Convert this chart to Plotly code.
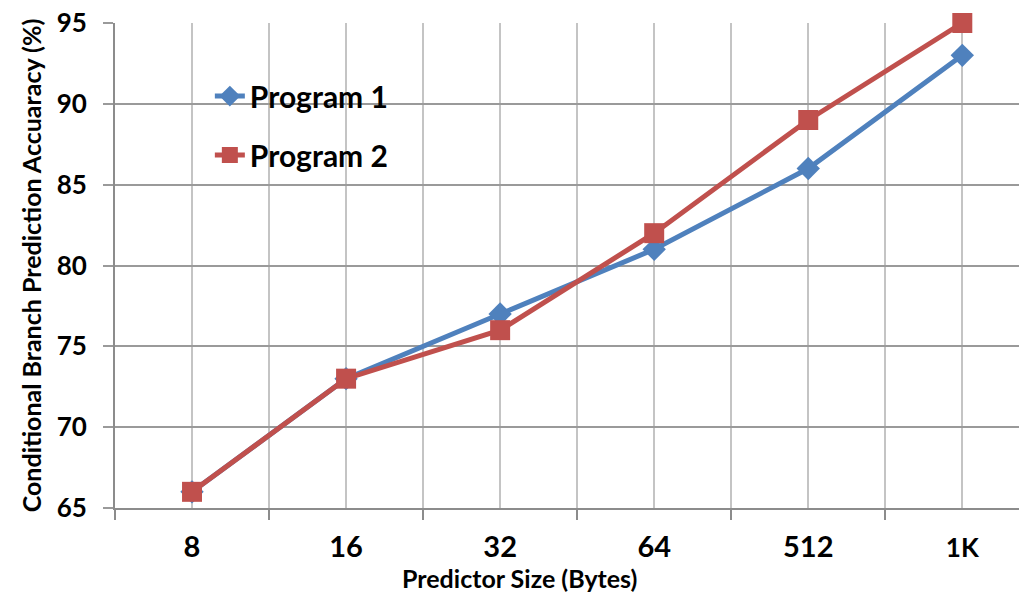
import plotly.graph_objects as go

categories = ["8", "16", "32", "64", "512", "1K"]
program1 = [66, 73, 77, 81, 86, 93]
program2 = [66, 73, 76, 82, 89, 95]
y_ticks = [65, 70, 75, 80, 85, 90, 95]

xpos = list(range(len(categories)))
boundaries = [i - 0.5 for i in range(len(categories) + 1)]
ticktext = [c if c != "1K" else '<span style="font-size:26px">1K</span>' for c in categories]

FONT = "Lato"
fig = go.Figure()
fig.add_trace(go.Scatter(
    x=xpos, y=program1, name="Program 1", mode="lines+markers",
    line=dict(color="#4F81BD", width=5),
    marker=dict(symbol="diamond", size=18, color="#4F81BD"),
    legendgroup="p1", cliponaxis=False,
))
fig.add_trace(go.Scatter(
    x=xpos, y=program2, name="Program 2", mode="lines+markers",
    line=dict(color="#C0504D", width=5),
    marker=dict(symbol="square", size=20, color="#C0504D"),
    legendgroup="p2", cliponaxis=False,
))

# page body has an 8px margin, so the figure is offset by 8px; compensate
fig.update_layout(
    width=1027, height=592,
    margin=dict(l=107, r=8, t=15, b=92, autoexpand=False),
    paper_bgcolor="white", plot_bgcolor="white",
    font=dict(family=FONT, color="black"),
    showlegend=True,
    legend=dict(
        x=0.104, y=0.903, xanchor="left", yanchor="top",
        font=dict(family=FONT, size=30, color="black", weight="bold"),
        traceorder="grouped", tracegroupgap=17,
        bgcolor="rgba(0,0,0,0)",
    ),
    annotations=[dict(
        text="Predictor Size (Bytes)", xref="paper", yref="paper",
        x=0.444, y=-0.145, xanchor="center", yanchor="middle", showarrow=False,
        font=dict(family=FONT, size=25, color="black", weight="bold"),
    )],
)

fig.update_xaxes(
    range=[-0.5, 5.42], automargin=False,
    tickmode="array", tickvals=xpos, ticktext=ticktext,
    ticks="", showgrid=True, gridcolor="#C4C4C4", gridwidth=2,
    tickfont=dict(family=FONT, size=29, color="black", weight="bold"),
    ticklabelstandoff=12,
    minor=dict(tickmode="array", tickvals=boundaries, ticks="outside", ticklen=10,
               tickcolor="#8C8C8C", tickwidth=2, showgrid=True,
               gridcolor="#C4C4C4", gridwidth=2),
    showline=True, linecolor="#8C8C8C", linewidth=2,
    zeroline=False,
)

fig.update_yaxes(
    range=[65, 95], automargin=False,
    tickmode="array", tickvals=y_ticks,
    ticks="outside", ticklen=10, tickcolor="#9A9A9A", tickwidth=2,
    showgrid=True, gridcolor="#9A9A9A", gridwidth=2,
    tickfont=dict(family=FONT, size=26, color="black", weight="bold"),
    ticklabelstandoff=11, ticklabeloverflow="allow",
    showline=True, linecolor="#8C8C8C", linewidth=2,
    zeroline=False,
    title=dict(text="Conditional Branch Prediction Accuaracy (%)", standoff=8,
               font=dict(family=FONT, size=25, color="black", weight="bold")),
)

fig.write_html("out.html")
